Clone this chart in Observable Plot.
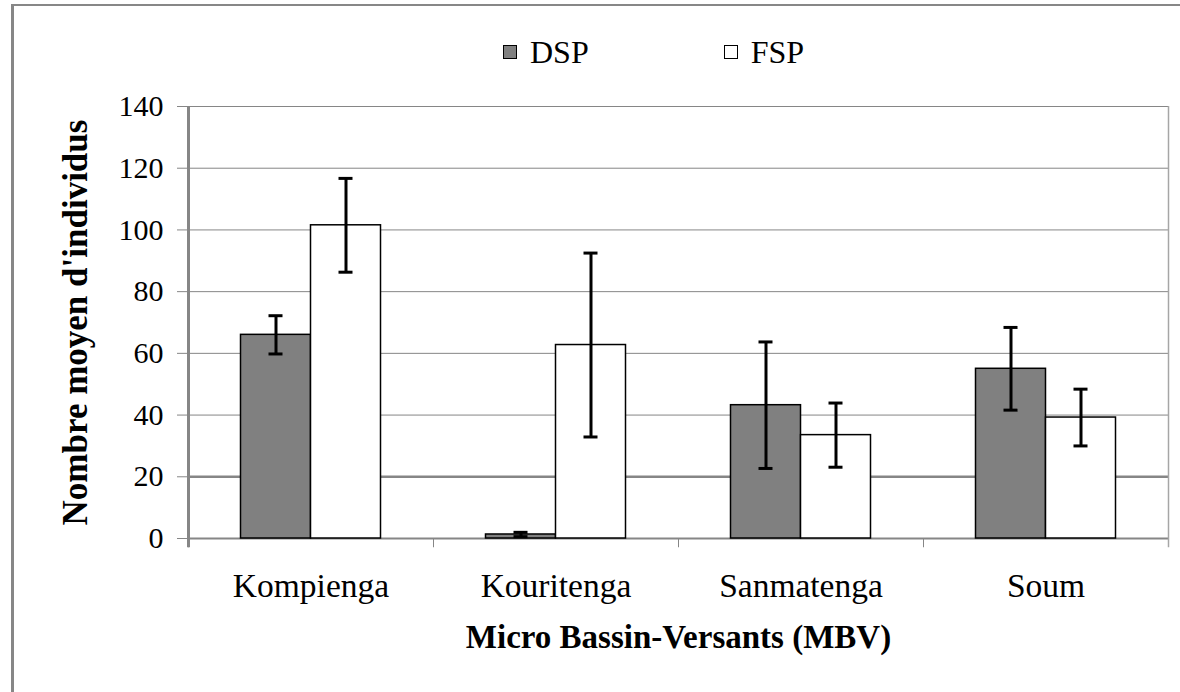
<!DOCTYPE html>
<html><head><meta charset="utf-8">
<script src="https://cdn.jsdelivr.net/npm/d3@7"></script>
<script src="https://cdn.jsdelivr.net/npm/@observablehq/plot@0.6"></script>
<style>
body{margin:0;background:#fff;}
#wrap{position:relative;width:1180px;height:692px;overflow:hidden;background:#fff;font-family:"Liberation Serif","Times New Roman",serif;}
#frame{position:absolute;left:11px;top:4px;width:1200px;height:720px;border-top:2px solid #878787;border-left:3px solid #878787;pointer-events:none;}
#legend{height:80px;box-sizing:border-box;padding-top:24px;padding-left:503px;display:flex;align-items:center;}
.item{display:flex;align-items:center;margin-right:135px;}
.sw{width:14px;height:14px;border:1px solid #000;box-sizing:border-box;margin-right:13px;}
.lab{font-size:32px;line-height:1;color:#000;}
#chart svg{display:block;}
</style></head>
<body>
<div id="wrap"><div id="frame"></div><div id="legend"></div><div id="chart"></div></div>
<script>
const categories = ["Kompienga", "Kouritenga", "Sanmatenga", "Soum"];
const series = ["DSP", "FSP"];
const dspMean = [66, 1.3, 43.2, 55];
const dspErr = [6.2, 0.7, 20.5, 13.4];
const fspMean = [101.5, 62.7, 33.5, 39.2];
const fspErr = [15.2, 29.8, 10.4, 9.2];
const yTicks = [0, 20, 40, 60, 80, 100, 120, 140];
const seriesFill = ["#808080", "#ffffff"];
const yTitle = "Nombre moyen d'individus";
const xTitle = "Micro Bassin-Versants (MBV)";

const dsp = categories.map((c, i) => ({cat: c, series: series[0], mean: dspMean[i], err: dspErr[i]}));
const fsp = categories.map((c, i) => ({cat: c, series: series[1], mean: fspMean[i], err: fspErr[i]}));

// legend
const leg = d3.select("#legend");
series.forEach((s, i) => {
  const it = leg.append("div").attr("class", "item");
  it.append("div").attr("class", "sw").style("background", seriesFill[i]);
  it.append("div").attr("class", "lab").text(s);
});

const step = 245;     // category band width in px (padding 0)
const barW = 70;      // width of one bar
const capW = 14;      // width of error-bar caps
const grid = "#868686";

function barMarks(rows, side) {
  // side: -1 left bar (DSP), +1 right bar (FSP)
  const outer = step / 2 - barW;
  const inL = side < 0 ? outer : step / 2;
  const inR = side < 0 ? step / 2 : outer;
  const capC = step / 2 + side * barW / 2;
  const capL = capC - capW / 2, capR = step - capC - capW / 2;
  return [
    Plot.barY(rows, {x: "cat", y: "mean", fill: "series", stroke: "#000", strokeWidth: 1.5, insetLeft: inL, insetRight: inR}),
    Plot.ruleX(rows, {x: "cat", y1: d => d.mean - d.err, y2: d => d.mean + d.err, stroke: "#000", strokeWidth: 3, dx: side * barW / 2}),
    Plot.tickY(rows, {x: "cat", y: d => d.mean + d.err, stroke: "#000", strokeWidth: 3, insetLeft: capL, insetRight: capR}),
    Plot.tickY(rows, {x: "cat", y: d => d.mean - d.err, stroke: "#000", strokeWidth: 3, insetLeft: capL, insetRight: capR})
  ];
}

const chart = Plot.plot({
  width: 1180,
  height: 612,
  marginTop: 26,
  marginBottom: 154,
  marginLeft: 188,
  marginRight: 12,
  style: {fontFamily: "'Liberation Serif','Times New Roman',serif", color: "#000", background: "#fff", overflow: "visible"},
  x: {domain: categories, padding: 0, paddingInner: 0, paddingOuter: 0, round: false, label: null, axis: null},
  y: {domain: [0, 140], label: null, axis: null},
  color: {domain: series, range: seriesFill},
  marks: [
    Plot.gridY({ticks: yTicks, stroke: grid, strokeOpacity: 1, strokeWidth: 1}),
    Plot.ruleY([20], {stroke: grid, strokeWidth: 2.5}),
    Plot.ruleY([0], {stroke: grid, strokeWidth: 2}),
    Plot.ruleX(categories, {x: d => d, dx: -step / 2, y1: 0, y2: -3, stroke: grid, strokeWidth: 1}),
    Plot.ruleX([categories[0]], {x: d => d, dx: -step / 2, y1: 140, y2: -3, stroke: grid, strokeWidth: 3}),
    Plot.ruleX([categories[categories.length - 1]], {x: d => d, dx: step / 2, y1: 140, y2: -3, stroke: "#a6a6a6", strokeWidth: 1.5}),
    Plot.axisY({ticks: yTicks, tickSize: 11, tickPadding: 14, fontSize: 30, stroke: grid, fill: "#000", label: null}),
    Plot.axisX({tickSize: 0, tickPadding: 35, fontSize: 33.5, fill: "#000", label: null}),
    ...barMarks(dsp, -1),
    ...barMarks(fsp, 1),
    Plot.text([yTitle], {frameAnchor: "left", textAnchor: "middle", dx: -113, rotate: -90, fontSize: 35, fontWeight: "bold", fill: "#000"}),
    Plot.text([xTitle], {frameAnchor: "bottom", textAnchor: "middle", dy: 109, fontSize: 33, fontWeight: "bold", fill: "#000"})
  ]
});
document.getElementById("chart").appendChild(chart);
</script>
</body></html>
